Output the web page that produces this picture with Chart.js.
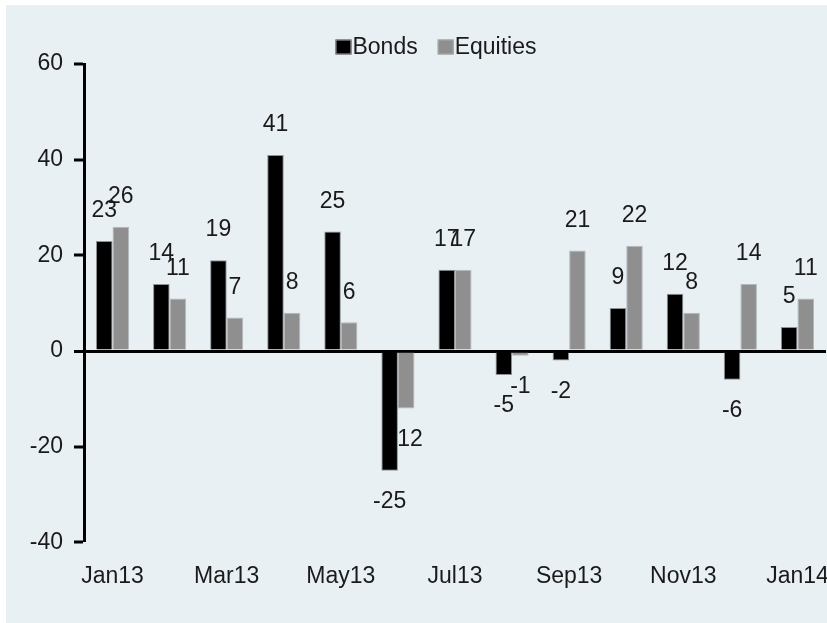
<!DOCTYPE html>
<html>
<head>
<meta charset="utf-8">
<script src="https://cdn.jsdelivr.net/npm/chart.js@4/dist/chart.umd.min.js"></script>
<style>
  html, body { margin: 0; padding: 0; background: #fff; }
  #wrap { width: 827px; height: 623px; }
</style>
</head>
<body>
<div id="wrap"><canvas id="flowChart" width="827" height="623"></canvas></div>
<script>
const months = ['Jan13', 'Feb13', 'Mar13', 'Apr13', 'May13', 'Jun13', 'Jul13',
  'Aug13', 'Sep13', 'Oct13', 'Nov13', 'Dec13', 'Jan14'];
const bonds = [23, 14, 19, 41, 25, -25, 17, -5, -2, 9, 12, -6, 5];
const equities = [26, 11, 7, 8, 6, -12, 17, -1, 21, 22, 8, 14, 11];
const yTicks = [-40, -20, 0, 20, 40, 60];

const FONT = "'Liberation Sans', Arial, sans-serif";
const TEXT = '#1a1a1a';

// light panel behind the chart
const panelBg = {
  id: 'panelBg',
  beforeDraw(chart) {
    const c = chart.ctx;
    c.save();
    c.fillStyle = '#e9f0f4';
    c.fillRect(6, 5, chart.width - 6, chart.height - 5);
    c.restore();
  }
};

// value labels, drawn under the bars like the original
const valueLabels = {
  id: 'valueLabels',
  beforeDatasetsDraw(chart) {
    const c = chart.ctx;
    c.save();
    c.font = '23px ' + FONT;
    c.fillStyle = TEXT;
    c.textAlign = 'center';
    c.textBaseline = 'middle';
    chart.data.datasets.forEach((ds, i) => {
      chart.getDatasetMeta(i).data.forEach((bar, j) => {
        const v = ds.data[j];
        const y = v >= 0 ? bar.y - 30 : bar.y + 31;
        c.fillText(String(v), bar.x, y);
      });
    });
    c.restore();
  }
};

// compact legend: box touching its text
const boxLegend = {
  id: 'boxLegend',
  afterDraw(chart) {
    const c = chart.ctx;
    c.save();
    c.font = '23px ' + FONT;
    c.textBaseline = 'middle';
    const items = chart.data.datasets.map(ds => ({ label: ds.label, color: ds.backgroundColor }));
    const boxW = 16, boxH = 15, gap = 1, itemGap = 20;
    let total = 0;
    items.forEach((it, k) => {
      it.w = boxW + gap + c.measureText(it.label).width;
      total += it.w + (k ? itemGap : 0);
    });
    let x = 436 - total / 2;
    const y = 47;
    items.forEach(it => {
      c.fillStyle = it.color;
      c.fillRect(x, y - boxH / 2, boxW, boxH);
      c.strokeStyle = '#a8acaf';
      c.lineWidth = 1;
      c.strokeRect(x + 0.5, y - boxH / 2 + 0.5, boxW - 1, boxH - 1);
      c.fillStyle = TEXT;
      c.fillText(it.label, x + boxW + gap, y + 1);
      x += it.w + itemGap;
    });
    c.restore();
  }
};

new Chart(document.getElementById('flowChart'), {
  type: 'bar',
  data: {
    labels: months,
    datasets: [
      { label: 'Bonds', data: bonds, backgroundColor: '#000000', borderColor: '#8e9295', borderWidth: 1 },
      { label: 'Equities', data: equities, backgroundColor: '#8f8f8f', borderColor: '#b4b8bb', borderWidth: 1 }
    ]
  },
  options: {
    responsive: false,
    animation: false,
    devicePixelRatio: 1,
    layout: { padding: { left: 6, top: 64, right: 1, bottom: 13 } },
    datasets: { bar: { categoryPercentage: 0.58, barPercentage: 1 } },
    plugins: {
      legend: { display: false },
      tooltip: { enabled: false }
    },
    scales: {
      x: {
        offset: true,
        afterFit: s => { s.paddingLeft = 0; s.paddingRight = 0; },
        grid: { display: false, drawTicks: false },
        border: { display: false },
        ticks: {
          autoSkip: false,
          maxRotation: 0,
          padding: 20,
          color: TEXT,
          font: { family: FONT, size: 23 },
          callback: (v, i) => (i % 2 === 0 ? months[i] : '')
        }
      },
      y: {
        min: -40,
        max: 60,
        afterBuildTicks: s => { s.ticks = yTicks.map(v => ({ value: v })); },
        afterFit: s => { s.width = 78; },
        grid: {
          drawOnChartArea: true,
          color: ctx => (ctx.tick && ctx.tick.value === 0 ? '#000' : 'rgba(0,0,0,0)'),
          lineWidth: ctx => (ctx.tick && ctx.tick.value === 0 ? 3 : 0),
          drawTicks: true,
          tickLength: 10,
          tickColor: '#000',
          tickWidth: 3
        },
        border: { display: true, color: '#000', width: 3 },
        ticks: {
          padding: 11,
          color: TEXT,
          font: { family: FONT, size: 23 }
        }
      }
    }
  },
  plugins: [panelBg, valueLabels, boxLegend]
});
</script>
</body>
</html>
